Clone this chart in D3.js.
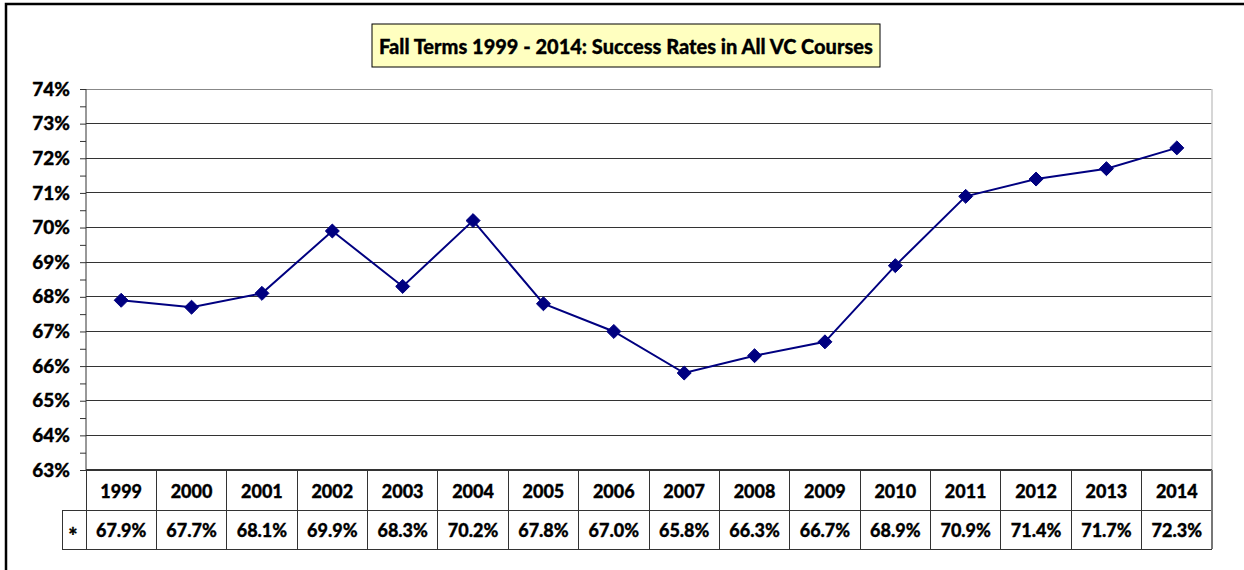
<!DOCTYPE html>
<html><head><meta charset="utf-8">
<script src="https://cdn.jsdelivr.net/npm/d3@7"></script>
<style>body{margin:0;background:#fff}svg{display:block}</style>
</head><body>
<script>
const years = ["1999","2000","2001","2002","2003","2004","2005","2006","2007","2008","2009","2010","2011","2012","2013","2014"];
const rates = [67.9,67.7,68.1,69.9,68.3,70.2,67.8,67.0,65.8,66.3,66.7,68.9,70.9,71.4,71.7,72.3];
const yTicks = [63,64,65,66,67,68,69,70,71,72,73,74];
const titleText = "Fall Terms 1999 - 2014: Success Rates in All VC Courses";
const rowLabel = "*";

const W = 1244, H = 570;
const font = "Lato, 'Open Sans', sans-serif";
const svg = d3.select("body").append("svg").attr("width", W).attr("height", H);

// outer border (only left/top visible)
svg.append("rect").attr("x", 6).attr("y", 4).attr("width", 1300).attr("height", 700)
  .attr("fill", "none").attr("stroke", "#000").attr("stroke-width", 2.5);

const L = 86, R = 1212, T = 89, B = 470;
const x = d3.scaleBand().domain(years).range([L, R]);
const y = d3.scaleLinear().domain([63, 74]).range([B, T]);

// gridlines
svg.append("g").selectAll("line").data(yTicks.slice(1)).join("line")
  .attr("x1", L).attr("x2", R).attr("y1", d => y(d)).attr("y2", d => y(d))
  .attr("stroke", d => d === 74 ? "#888" : "#333").attr("stroke-width", 1)
  .attr("shape-rendering", "crispEdges");
// right border of plot
svg.append("line").attr("x1", R).attr("x2", R).attr("y1", T).attr("y2", B)
  .attr("stroke", "#c8c8c8").attr("stroke-width", 1.5);

// y axis
const yAxis = d3.axisLeft(y).tickValues(d3.range(63, 74.01, 0.5)).tickSize(6)
  .tickFormat(d => Number.isInteger(d) ? d + "%" : "");
const ga = svg.append("g").attr("transform", `translate(${L},0)`).call(yAxis);
ga.select(".domain").attr("stroke", "#333").attr("d", `M-0,${T}V${B}`);
ga.selectAll(".tick line").attr("stroke", "#333");
ga.selectAll(".tick text").attr("x", -16).attr("font-family", font)
  .attr("font-weight", 900).attr("font-size", 19).attr("fill", "#000")
  .attr("stroke", "#000").attr("stroke-width", 0.3);

// table
const fs = 18;
const tb = svg.append("g").attr("stroke", "#333").attr("stroke-width", 1).attr("shape-rendering", "crispEdges");
tb.append("line").attr("x1", L).attr("x2", R).attr("y1", B).attr("y2", B).attr("stroke-width", 1.5);
tb.append("line").attr("x1", 62).attr("x2", R).attr("y1", 510).attr("y2", 510);
tb.append("line").attr("x1", 62).attr("x2", R).attr("y1", 549).attr("y2", 549);
tb.append("line").attr("x1", 62).attr("x2", 62).attr("y1", 510).attr("y2", 549);
tb.append("line").attr("x1", L).attr("x2", L).attr("y1", B).attr("y2", 549);
tb.selectAll(".v").data(years).join("line").attr("class", "v")
  .attr("x1", d => x(d) + x.bandwidth()).attr("x2", d => x(d) + x.bandwidth())
  .attr("y1", B).attr("y2", 549).attr("stroke", (d, i) => i === years.length - 1 ? "#777" : "#333")
  .attr("stroke-width", (d, i) => i === years.length - 1 ? 2 : 1);

const txt = g => g.attr("font-family", font).attr("font-weight", 900).attr("font-size", fs)
  .attr("stroke", "#000").attr("stroke-width", 0.3);
svg.append("g").selectAll("text").data(years).join("text")
  .attr("x", d => x(d) + x.bandwidth() / 2).attr("y", 491)
  .attr("text-anchor", "middle").attr("dominant-baseline", "central")
  .call(txt).text(d => d);
svg.append("g").selectAll("text").data(rates).join("text")
  .attr("x", (d, i) => x(years[i]) + x.bandwidth() / 2).attr("y", 530)
  .attr("text-anchor", "middle").attr("dominant-baseline", "central")
  .call(txt).text(d => d.toFixed(1) + "%");
svg.append("text").attr("x", 73).attr("y", 535).attr("text-anchor", "middle")
  .attr("dominant-baseline", "central").call(txt).attr("font-size", 22).text(rowLabel);

// line
const line = d3.line().x((d, i) => x(years[i]) + x.bandwidth() / 2).y(d => y(d));
svg.append("path").datum(rates).attr("d", line).attr("fill", "none")
  .attr("stroke", "#000080").attr("stroke-width", 2);
svg.append("g").selectAll("path").data(rates).join("path")
  .attr("transform", (d, i) => `translate(${x(years[i]) + x.bandwidth() / 2},${y(d)})`)
  .attr("d", d3.symbol(d3.symbolDiamond2, 125)).attr("fill", "#000080").attr("stroke", "#000080").attr("stroke-width", 1);

// title
const tg = svg.append("g");
tg.append("rect").attr("x", 372).attr("y", 24).attr("width", 508).attr("height", 43)
  .attr("fill", "#ffffc0").attr("stroke", "#000").attr("stroke-width", 1);
tg.append("text").attr("x", 626).attr("y", 46).attr("text-anchor", "middle")
  .attr("dominant-baseline", "central").attr("font-family", font)
  .attr("font-weight", 900).attr("font-size", 20).attr("stroke", "#000").attr("stroke-width", 0.3)
  .text(titleText);
</script>
</body></html>
